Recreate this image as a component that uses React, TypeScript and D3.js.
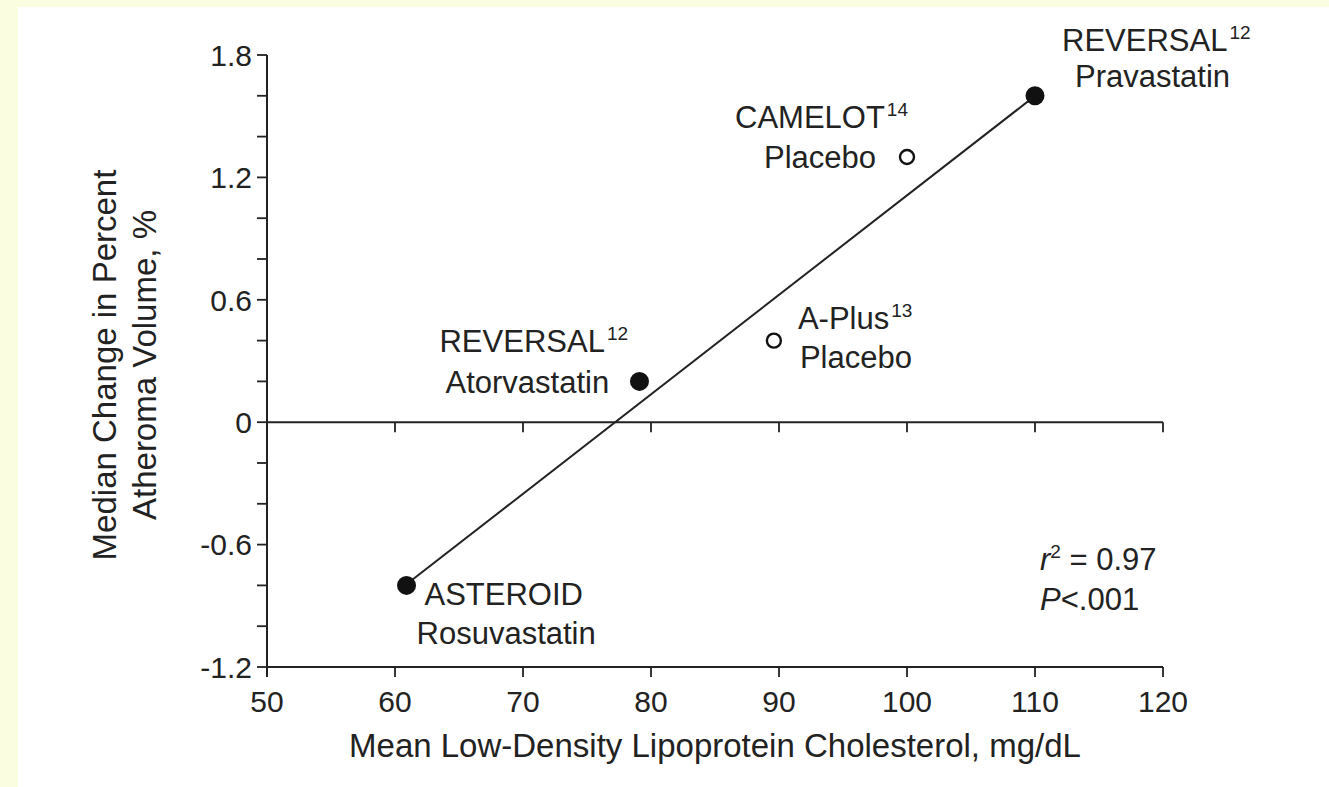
import React from "react";
import * as d3 from "d3";

// ---- data ----
const studyNames = ["REVERSAL Pravastatin", "CAMELOT Placebo", "A-Plus Placebo", "REVERSAL Atorvastatin", "ASTEROID Rosuvastatin"];
const studyLine1 = ["REVERSAL", "CAMELOT", "A-Plus", "REVERSAL", "ASTEROID"];
const studyRefs = ["12", "14", "13", "12", ""];
const studyLine2 = ["Pravastatin", "Placebo", "Placebo", "Atorvastatin", "Rosuvastatin"];
const ldlValues = [110, 100, 89.6, 79.1, 60.9];
const atheromaChange = [1.6, 1.3, 0.4, 0.2, -0.8];
const statinArm = [true, false, false, true, true];
const regressionLine = [
  [61.2, -0.78],
  [109.6, 1.58],
];
const xTicks = [50, 60, 70, 80, 90, 100, 110, 120];
const yMinorTicks = [-1.2, -1.0, -0.8, -0.6, -0.4, -0.2, 0, 0.2, 0.4, 0.6, 0.8, 1.0, 1.2, 1.4, 1.6, 1.8];
const yTickLabels = [-1.2, -0.6, 0, 0.6, 1.2, 1.8];
const xTitle = "Mean Low-Density Lipoprotein Cholesterol, mg/dL";
const yTitle = ["Median Change in Percent", "Atheroma Volume, %"];
const statR2 = "0.97";
const statP = "<.001";

// ---- layout (label placement, in px offsets from the point) ----
const labelLayout: Record<string, { dx1: number; dy1: number; dx2: number; dy2: number }> = {
  "REVERSAL Pravastatin": { dx1: 27, dy1: -45, dx2: 40, dy2: -9 },
  "CAMELOT Placebo": { dx1: -172, dy1: -29, dx2: -143, dy2: 11 },
  "A-Plus Placebo": { dx1: 24, dy1: -12, dx2: 26, dy2: 27 },
  "REVERSAL Atorvastatin": { dx1: -200, dy1: -29, dx2: -194, dy2: 12 },
  "ASTEROID Rosuvastatin": { dx1: 18, dy1: 20, dx2: 10, dy2: 59 },
};

const W = 1329;
const H = 787;
const M = { left: 267, right: 1163, top: 55, bottom: 667 };
const FONT = "'Liberation Sans', Arial, Helvetica, sans-serif";
const INK = "#222";

export default function App() {
  const x = d3.scaleLinear().domain([50, 120]).range([M.left, M.right]);
  const y = d3.scaleLinear().domain([-1.2, 1.8]).range([M.bottom, M.top]);
  const line = d3
    .line<number[]>()
    .x((d) => x(d[0]))
    .y((d) => y(d[1]));

  return (
    <svg
      width={W}
      height={H}
      style={{ position: "absolute", left: 0, top: 0, display: "block" }}
      fontFamily={FONT}
    >
      <rect x={0} y={0} width={W} height={H} fill="#fafde0" />
      <rect x={18} y={7} width={W - 18} height={H - 7} fill="#ffffff" />

      {/* y axis */}
      <line x1={x(50)} x2={x(50)} y1={y(1.8)} y2={y(-1.2) + 10} stroke={INK} strokeWidth={2} />
      {yMinorTicks.map((t) => (
        <line key={"yt" + t} x1={x(50) - 10} x2={x(50)} y1={y(t)} y2={y(t)} stroke={INK} strokeWidth={1.8} />
      ))}
      {yTickLabels.map((t) => (
        <text key={"yl" + t} x={x(50) - 15} y={y(t)} dy="0.36em" textAnchor="end" fontSize={30} fill={INK}>
          {t === 0 ? "0" : d3.format(".1f")(t).replace("−", "-")}
        </text>
      ))}

      {/* bottom x axis */}
      <line x1={x(50)} x2={x(120)} y1={y(-1.2)} y2={y(-1.2)} stroke={INK} strokeWidth={2} />
      {xTicks.map((t) => (
        <line key={"xb" + t} x1={x(t)} x2={x(t)} y1={y(-1.2)} y2={y(-1.2) + 10} stroke={INK} strokeWidth={1.8} />
      ))}
      {xTicks.map((t) => (
        <text key={"xl" + t} x={x(t)} y={y(-1.2) + 45} textAnchor="middle" fontSize={30} fill={INK}>
          {t}
        </text>
      ))}

      {/* zero line */}
      <line x1={x(50)} x2={x(120)} y1={y(0)} y2={y(0)} stroke={INK} strokeWidth={2} />
      {xTicks.slice(1).map((t) => (
        <line key={"xz" + t} x1={x(t)} x2={x(t)} y1={y(0)} y2={y(0) + 10} stroke={INK} strokeWidth={1.8} />
      ))}

      {/* titles */}
      <text x={(M.left + M.right) / 2} y={757} textAnchor="middle" fontSize={33} fill={INK}>
        {xTitle}
      </text>
      {yTitle.map((s, i) => (
        <text
          key={"yt-" + i}
          transform={`translate(${116 + i * 40},${(M.top + M.bottom) / 2 + 4}) rotate(-90)`}
          textAnchor="middle"
          fontSize={33}
          fill={INK}
        >
          {s}
        </text>
      ))}

      {/* regression line */}
      <path d={line(regressionLine) || ""} fill="none" stroke={INK} strokeWidth={2} />

      {/* points */}
      {studyNames.map((n, i) =>
        statinArm[i] ? (
          <circle key={"p" + n} cx={x(ldlValues[i])} cy={y(atheromaChange[i])} r={9.5} fill="#111" />
        ) : (
          <circle
            key={"p" + n}
            cx={x(ldlValues[i])}
            cy={y(atheromaChange[i])}
            r={7}
            fill="#fff"
            stroke="#111"
            strokeWidth={2.4}
          />
        )
      )}

      {/* labels */}
      {studyNames.map((n, i) => {
        const px = x(ldlValues[i]);
        const py = y(atheromaChange[i]);
        const L = labelLayout[n];
        return (
          <g key={"lab" + n} fill={INK} fontSize={31}>
            <text x={px + L.dx1} y={py + L.dy1}>
              {studyLine1[i]}
              {studyRefs[i] ? (
                <tspan fontSize={19} dy={-12} dx={2}>
                  {studyRefs[i]}
                </tspan>
              ) : null}
            </text>
            <text x={px + L.dx2} y={py + L.dy2}>
              {studyLine2[i]}
            </text>
          </g>
        );
      })}

      {/* statistics */}
      <g fill={INK} fontSize={31}>
        <text x={1040} y={570}>
          <tspan fontStyle="italic">r</tspan>
          <tspan fontSize={19} dy={-12}>2</tspan>
          <tspan dy={12}>{" = " + statR2}</tspan>
        </text>
        <text x={1040} y={610}>
          <tspan fontStyle="italic">P</tspan>
          <tspan>{statP}</tspan>
        </text>
      </g>
    </svg>
  );
}
